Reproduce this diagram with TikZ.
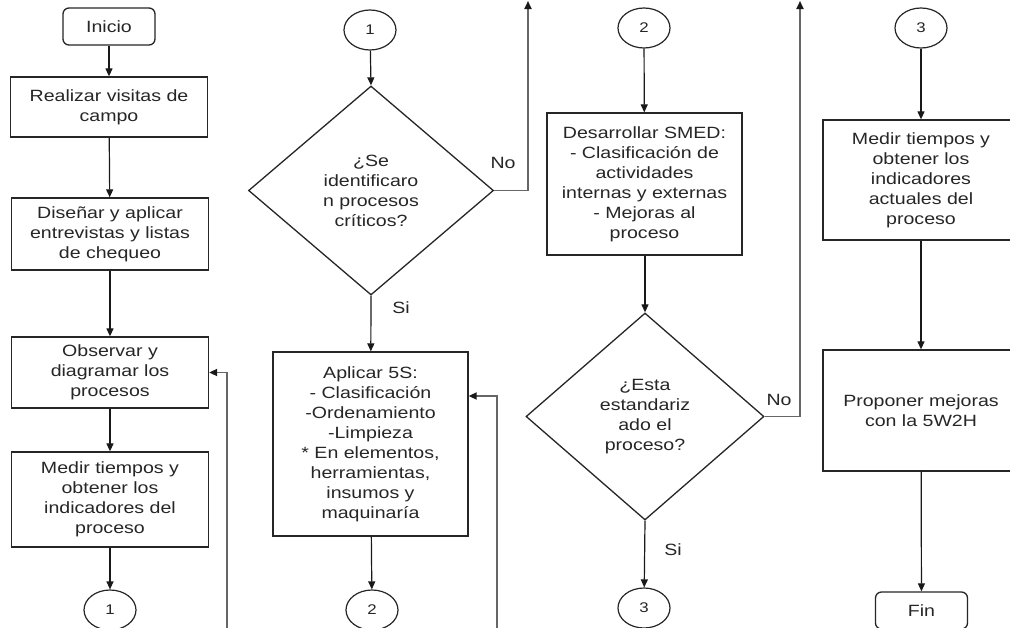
\documentclass[tikz,border=0pt]{standalone}
\usepackage{fontspec}
\setmainfont{Liberation Sans}[FakeStretch=1.2]
\usetikzlibrary{shapes.geometric,arrows.meta}

\begin{document}
\begin{tikzpicture}[x=1pt,y=-1pt,
  every node/.style={font=\fontsize{16.3}{20}\selectfont, text=black!85},
  box/.style={draw=black!85, line width=1.3pt, align=center, inner sep=0pt,
    minimum width=#1},
  term/.style={draw=black!85, line width=1.3pt, rounded corners=6pt,
    inner sep=0pt, minimum width=92pt, minimum height=37pt},
  dec/.style={draw=black!85, line width=1.3pt, diamond, align=center,
    inner sep=0pt},
  conn/.style={draw=black!85, line width=1.2pt, ellipse, inner sep=0pt,
    minimum width=52pt, minimum height=40pt, font=\fontsize{14}{14}\selectfont},
  lbl/.style={inner sep=0pt},
  arr/.style={draw=black!90, line width=1.2pt, -{Triangle[length=8pt,width=7pt]}},
  ret/.style={draw=black!60, line width=1.7pt,
    -{Triangle[length=8pt,width=7pt,color=black!90]}}]

\useasboundingbox (0,0) rectangle (1010,627);
\clip (0,0) rectangle (1010,627);
\fill[white] (0,0) rectangle (1010,627);

% ---- first column ----
\node[term] (inicio) at (109,26.5) {Inicio};
\node[box=197pt, minimum height=60pt] (realizar) at (109,107)
  {Realizar visitas de\\campo};
\node[box=197pt, minimum height=72pt] (disenar) at (110,234)
  {Diseñar y aplicar\\entrevistas y listas\\de chequeo};
\node[box=197pt, minimum height=71pt] (observar) at (110,372.5)
  {Observar y\\diagramar los\\procesos};
\node[box=197pt, minimum height=95pt] (medir1) at (110,499.5)
  {Medir tiempos y\\obtener los\\indicadores del\\proceso};
\node[conn] (c1a) at (110,610) {1};
\coordinate (back1) at (227,640);

\draw[arr] (inicio) -- (realizar);
\draw[arr] (realizar) -- (disenar);
\draw[arr] (disenar) -- (observar);
\draw[arr] (observar) -- (medir1);
\draw[arr] (medir1) -- (c1a);
\draw[ret] (back1) |- (observar.east);

% ---- second column ----
\node[conn] (c1b) at (370,30) {1};
\node[dec, minimum width=245pt, minimum height=209pt] (d1) at (371,190.5)
  {¿Se\\identificaro\\n procesos\\críticos?};
\node[lbl] (no1) at (503,163) {No};
\node[lbl] (si1) at (401,308) {Si};
\node[box=195pt, minimum height=184pt] (aplicar) at (370.5,444)
  {Aplicar 5S:\\- Clasificación\\-Ordenamiento\\-Limpieza\\* En elementos,\\herramientas,\\insumos y\\maquinaría};
\node[conn] (c2a) at (372,610) {2};
\coordinate (up1) at (528,1);
\coordinate (back2) at (497,640);

\draw[arr] (c1b) -- (d1.north);
\draw[arr] (d1.south) -- (aplicar);
\draw[arr] (aplicar) -- (c2a);
\draw[ret] (d1.east) -| (up1);
\draw[ret] (back2) |- ([yshift=48pt]aplicar.east);

% ---- third column ----
\node[conn] (c2b) at (644,28) {2};
\node[box=195pt, minimum height=142pt] (smed) at (644.5,184)
  {Desarrollar SMED:\\- Clasificación de\\actividades\\internas y externas\\- Mejoras al\\proceso};
\node[dec, minimum width=238pt, minimum height=207pt] (d2) at (645,416.5)
  {¿Esta\\estandariz\\ado el\\proceso?};
\node[lbl] (no2) at (779,400) {No};
\node[lbl] (si2) at (673,550) {Si};
\node[conn] (c3a) at (644,608) {3};
\coordinate (up2) at (800,1);

\draw[arr] (c2b) -- (smed);
\draw[arr] (smed.south -| d2.north) -- (d2.north);
\draw[arr] (d2.south) -- (c3a);
\draw[ret] (d2.east) -| (up2);

% ---- fourth column ----
\node[conn] (c3b) at (921,28) {3};
\node[box=196pt, minimum height=120pt] (medir2) at (921,180)
  {Medir tiempos y\\obtener los\\indicadores\\actuales del\\proceso};
\node[box=196pt, minimum height=121pt] (proponer) at (921,410.5)
  {Proponer mejoras\\con la 5W2H};
\node[term] (fin) at (921.5,610.5) {Fin};

\draw[arr] (c3b) -- (medir2);
\draw[arr] (medir2) -- (proponer);
\draw[arr] (proponer) -- (fin);
\end{tikzpicture}
\end{document}
